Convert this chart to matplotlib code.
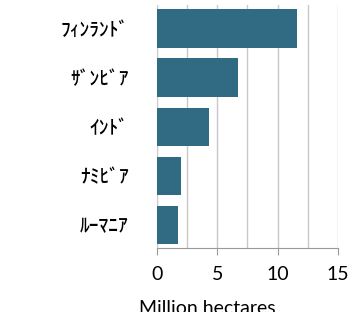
import matplotlib.pyplot as plt
import numpy as np

countries = ['ﾌｨﾝﾗﾝﾄﾞ', 'ｻﾞﾝﾋﾞｱ', 'ｲﾝﾄﾞ', 'ﾅﾐﾋﾞｱ', 'ﾙｰﾏﾆｱ']
values = [11.6, 6.7, 4.3, 2.0, 1.8]
xticks = [0, 5, 10, 15]

fig = plt.figure(figsize=(3.52, 3.12), dpi=100)
ax = fig.add_axes([0.445, 0.204, 0.516, 0.78])

y = np.arange(len(countries))[::-1]
ax.barh(y, values, height=0.78, color='#316b83', zorder=3)

ax.set_xlim(0, 15)
ax.set_ylim(-0.48, len(countries) - 0.52)
ax.set_xticks(xticks)
ax.set_xticks(np.arange(0, 15.1, 2.5), minor=True)
ax.grid(axis='x', which='both', color='#c8c8c8', linewidth=1, zorder=0)
ax.tick_params(axis='x', which='major', length=5, color='#999999', labelsize=14, pad=8)
ax.tick_params(axis='x', which='minor', length=0)
for lab in ax.get_xticklabels():
    lab.set_family('Lato')

ax.set_yticks(y)
ax.set_yticklabels(countries, family=['Noto Sans CJK JP', 'DejaVu Sans'],
                   fontsize=14, fontweight='medium')
ax.tick_params(axis='y', length=0, pad=20)

for s in ['top', 'right']:
    ax.spines[s].set_visible(False)
ax.spines['left'].set_color('#cccccc')
ax.spines['bottom'].set_color('#999999')

ax.set_xlabel('Million hectares', family='Lato', fontsize=14)
ax.xaxis.set_label_coords(0.277, -0.212)

fig.savefig('out.png', dpi=100)
